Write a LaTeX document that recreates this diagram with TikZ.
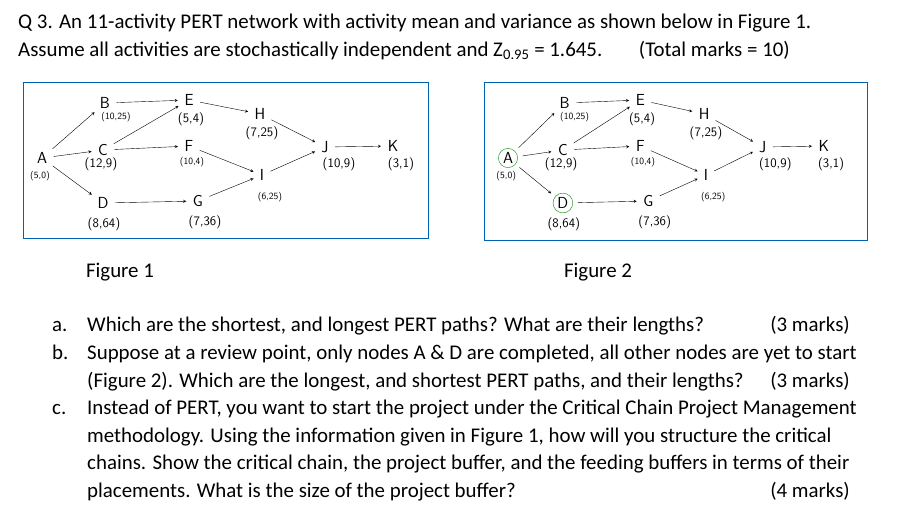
\documentclass[tikz,border=0pt]{standalone}
\usepackage{fontspec}
\setmainfont{Carlito}
\begin{document}
\begin{tikzpicture}[x=1pt,y=-1pt,
  txt/.style={anchor=base west,inner sep=0pt,font=\fontsize{20.9}{24}\selectfont},
  mk/.style={anchor=base east,inner sep=0pt,font=\fontsize{20.9}{24}\selectfont},
  nd/.style={inner sep=1.5pt,font=\sffamily\fontsize{16}{17}\selectfont},
  lb/.style={inner sep=0pt,font=\sffamily\fontsize{13}{14}\selectfont},
  sl/.style={inner sep=0pt,font=\sffamily\fontsize{9.5}{10}\selectfont},
  ar/.style={->,>=stealth,thin,shorten >=5pt,shorten <=5pt},
  frame/.style={draw=blue!45!cyan!70!black,line width=0.8pt},
  ring/.style={draw=green!55!black,circle,inner sep=1.5pt}]
\useasboundingbox (0,0) rectangle (905,528);
\node[txt] (t1) at (18,28) {Q 3. An 11-activity PERT network with activity mean and variance as shown below in Figure 1.};
\node[txt] (t2) at (18,56) {Assume all activities are stochastically independent and Z\textsubscript{0.95} = 1.645.};
\node[mk] (t3) at (790,56) {(Total marks = 10)};
\draw[frame] (23,82) rectangle (428,238);
\draw[frame] (484,82) rectangle (867,240);
\foreach \ox/\s/\f in {0/1/1,466/0.9/2}{
 \begin{scope}[shift={(42+\ox,0)},xscale=\s]
  \ifnum\f=2
   \node[nd,ring] (A\f) at (0,158) {A};
   \node[nd,ring] (D\f) at (61,203) {D};
  \else
   \node[nd] (A\f) at (0,158) {A};
   \node[nd] (D\f) at (61,203) {D};
  \fi
  \node[nd] (B\f) at (63,103) {B};
  \node[nd] (C\f) at (61,150) {C};
  \node[nd] (E\f) at (147,100) {E};
  \node[nd] (F\f) at (147,146) {F};
  \node[nd] (G\f) at (156,201) {G};
  \node[nd] (H\f) at (218,114) {H};
  \node[nd] (I\f) at (220,175) {I};
  \node[nd] (J\f) at (283,147) {J};
  \node[nd] (K\f) at (351,146) {K};
  \node[sl] (a\f) at (-2,176) {(5,0)};
  \node[sl] (b\f) at (74,117) {(10,25)};
  \node[lb] (c\f) at (59,164) {(12,9)};
  \node[lb] (d\f) at (62,224) {(8,64)};
  \node[lb] (e\f) at (149,119) {(5,4)};
  \node[sl] (f\f) at (150,162) {(10,4)};
  \node[lb] (g\f) at (163,222) {(7,36)};
  \node[lb] (h\f) at (220,133) {(7,25)};
  \node[sl] (i\f) at (228,197) {(6,25)};
  \node[lb] (j\f) at (297,164) {(10,9)};
  \node[lb] (k\f) at (359,164) {(3,1)};
  \foreach \u/\v in {A/B,A/C,A/D,B/E,C/E,C/F,D/G,E/H,F/I,G/I,H/J,I/J,J/K}
    \draw[ar] (\u\f) -- (\v\f);
 \end{scope}}
\node[txt,anchor=base] (f1) at (120,277) {Figure 1};
\node[txt,anchor=base] (f2) at (598,277) {Figure 2};
\node[txt] (qa) at (52,331) {a.};
\node[txt] (la1) at (87,331) {Which are the shortest, and longest PERT paths? What are their lengths?};
\node[mk] (ma) at (850,331) {(3 marks)};
\node[txt] (qb) at (52,359) {b.};
\node[txt] (lb1) at (87,359) {Suppose at a review point, only nodes A \& D are completed, all other nodes are yet to start};
\node[txt] (lb2) at (87,387) {(Figure 2). Which are the longest, and shortest PERT paths, and their lengths?};
\node[mk] (mb) at (850,387) {(3 marks)};
\node[txt] (qc) at (52,414) {c.};
\node[txt] (lc1) at (87,414) {Instead of PERT, you want to start the project under the Critical Chain Project Management};
\node[txt] (lc2) at (87,442) {methodology. Using the information given in Figure 1, how will you structure the critical};
\node[txt] (lc3) at (87,469) {chains. Show the critical chain, the project buffer, and the feeding buffers in terms of their};
\node[txt] (lc4) at (87,497) {placements. What is the size of the project buffer?};
\node[mk] (mc) at (850,497) {(4 marks)};
\end{tikzpicture}
\end{document}
